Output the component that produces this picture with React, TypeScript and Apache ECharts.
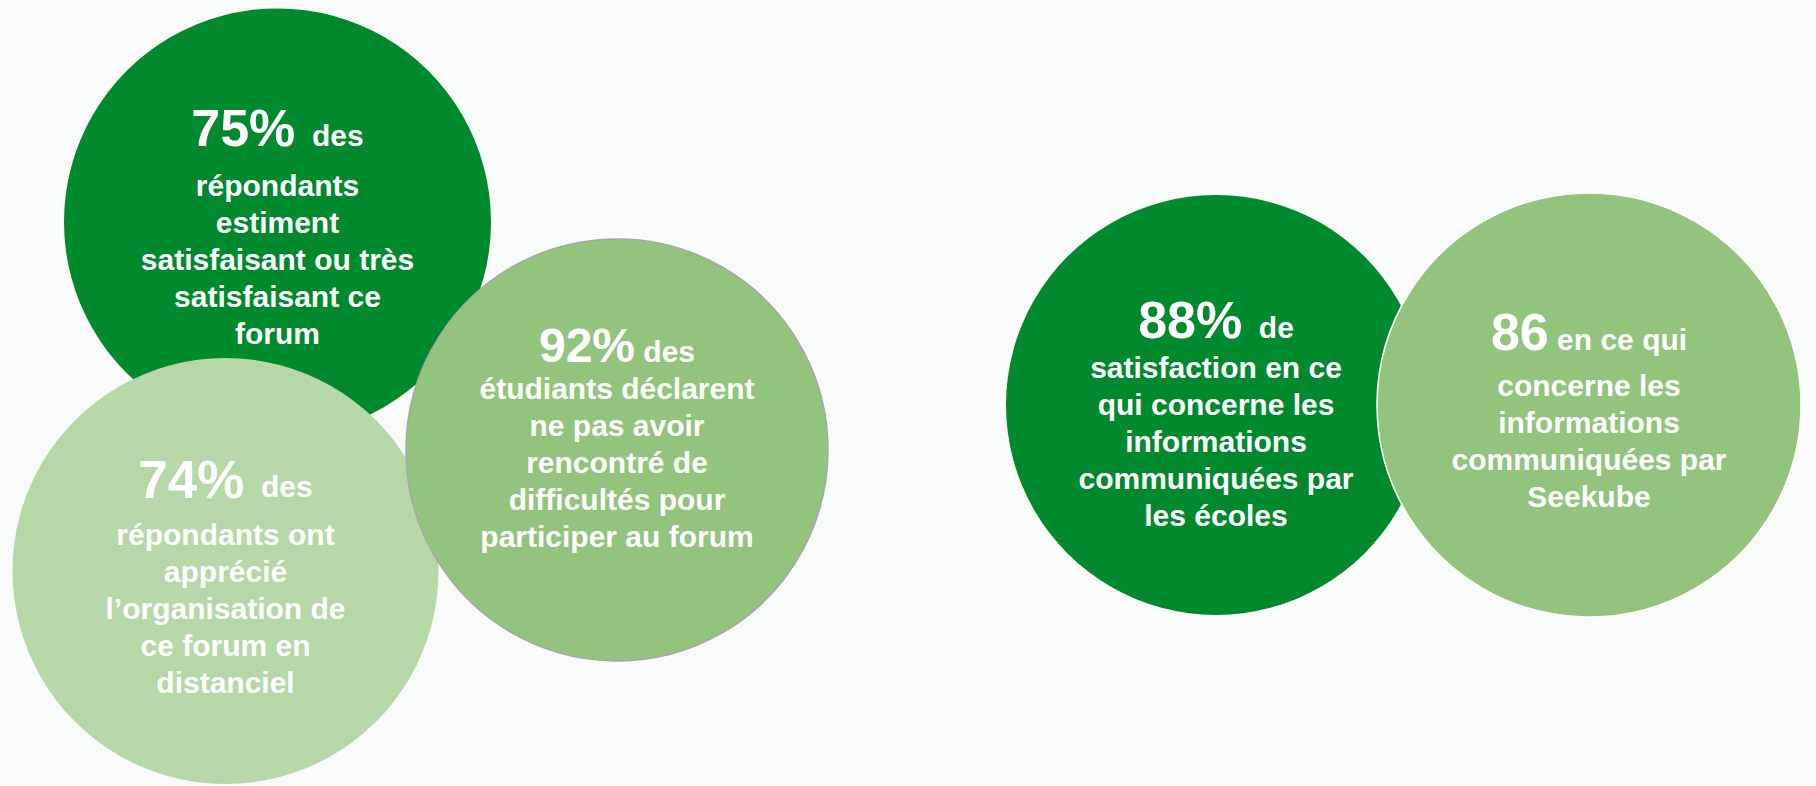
import React, { useEffect, useRef } from "react";
import * as echarts from "echarts";

// ---- content ----
const headlineValues = ["75%", "74%", "92%", "88%", "86"];
const leadWords = ["des", "des", "des", "de", "en ce qui"];
const bodyTexts = [
  ["répondants", "estiment", "satisfaisant ou très", "satisfaisant ce", "forum"],
  ["répondants ont", "apprécié", "l’organisation de", "ce forum en", "distanciel"],
  ["étudiants déclarent", "ne pas avoir", "rencontré de", "difficultés pour", "participer au forum"],
  ["satisfaction en ce", "qui concerne les", "informations", "communiquées par", "les écoles"],
  ["concerne les", "informations", "communiquées par", "Seekube"],
];

// ---- layout (positions on hidden pixel-space axes) ----
const bubbleX = [277.5, 225.5, 617, 1216, 1589];
const bubbleY = [222, 571, 450, 405, 405];
const bubbleDiameter = [427, 426, 422, 420, 424];

// ---- styles ----
const bubbleColor = ["#00892D", "#B6D7A8", "#93C47D", "#00892D", "#93C47D"];
const bubbleStroke = ["", "", "#A6A6A6", "", "#FFFFFF"];
const bigFont = [52, 53, 48, 52, 52];
const firstLineH = [77, 73, 49, 57, 69];
const textDy = [-1.5, 0.5, -12.5, 7.5, 1];
const gapText = ["  ", "  ", " ", "  ", " "];

const FONT = "'Liberation Sans', Arial, sans-serif";
const BODY = 30;
const LINE = 37;

export default function App() {
  const ref = useRef<HTMLDivElement>(null);

  useEffect(() => {
    document.body.style.margin = "0";
    if (!ref.current) return;
    const chart = echarts.init(ref.current, null, { renderer: "svg" });

    const data = bubbleX.map((x, i) => [x, bubbleY[i], bubbleDiameter[i], i]);

    const option = {
      animation: false,
      backgroundColor: "#F9FBFA",
      grid: { left: 0, right: 0, top: 0, bottom: 0 },
      xAxis: { type: "value", min: 0, max: 1816, show: false },
      yAxis: { type: "value", min: 0, max: 786, inverse: true, show: false },
      series: [
        {
          type: "custom",
          clip: false,
          data,
          renderItem: (params: any, api: any) => {
            const i = api.value(3);
            const p = api.coord([api.value(0), api.value(1)]);
            const d = api.size([api.value(2), 0])[0];
            const fb = bigFont[i];
            const padTop = 2 * 0.347 * (fb - BODY);
            const text =
              `{big|${headlineValues[i]}}${gapText[i]}{sm|${leadWords[i]}}\n` +
              bodyTexts[i].join("\n");
            const circleStyle: any = { fill: bubbleColor[i] };
            if (bubbleStroke[i]) {
              circleStyle.stroke = bubbleStroke[i];
              circleStyle.lineWidth = 1.5;
            }
            return {
              type: "group",
              children: [
                {
                  type: "circle",
                  shape: { cx: p[0], cy: p[1], r: d / 2 },
                  style: circleStyle,
                },
                {
                  type: "text",
                  x: p[0],
                  y: p[1] + textDy[i],
                  style: {
                    text,
                    fill: "#FFFFFF",
                    align: "center",
                    verticalAlign: "middle",
                    fontFamily: FONT,
                    fontWeight: "bold",
                    fontSize: BODY,
                    lineHeight: LINE,
                    rich: {
                      big: {
                        fontFamily: FONT,
                        fontWeight: "bold",
                        fontSize: fb,
                        lineHeight: firstLineH[i],
                        fill: "#FFFFFF",
                      },
                      sm: {
                        fontFamily: FONT,
                        fontWeight: "bold",
                        fontSize: BODY,
                        fill: "#FFFFFF",
                        padding: [padTop, 0, 0, 0],
                      },
                    },
                  },
                },
              ],
            };
          },
        },
      ],
    };

    chart.setOption(option as any);
    return () => chart.dispose();
  }, []);

  return <div ref={ref} style={{ width: 1816, height: 786 }} />;
}
